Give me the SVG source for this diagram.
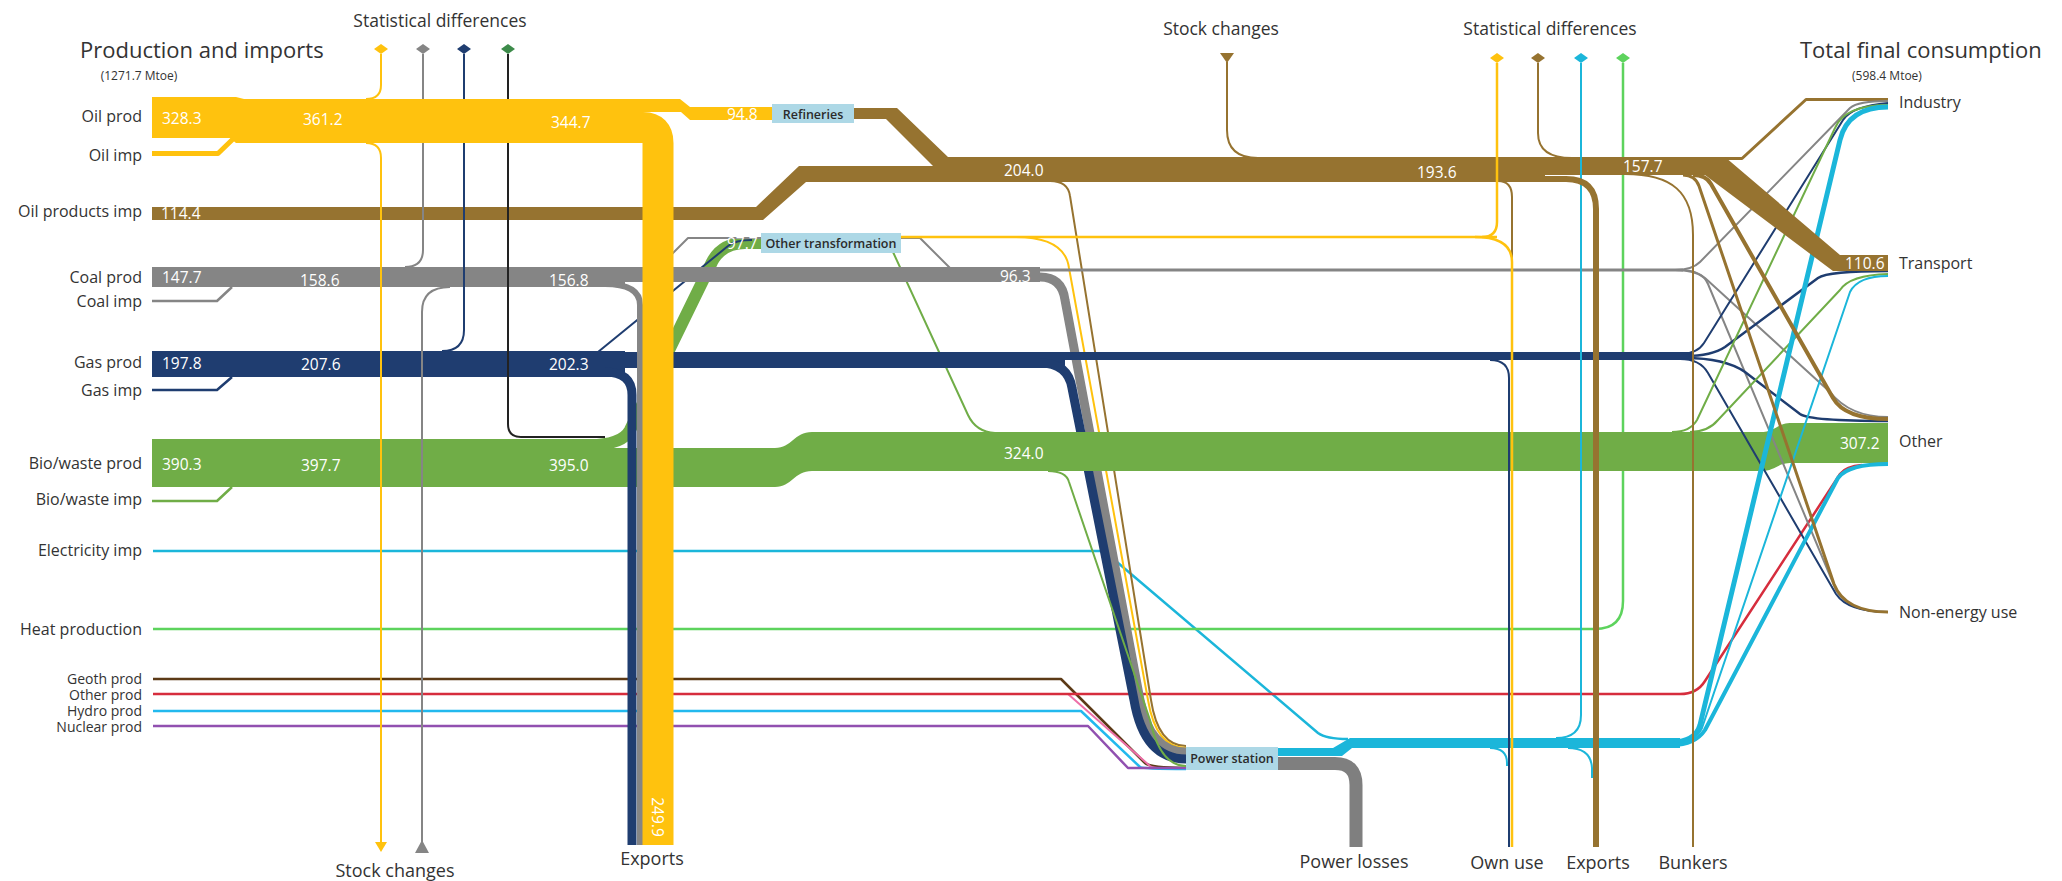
<svg xmlns="http://www.w3.org/2000/svg" width="2062" height="881" viewBox="0 0 2062 881">
<defs>
<style>
text{font-family:"Open Sans","Liberation Sans",Arial,sans-serif;fill:#333}
.lbl{font-size:16px;text-anchor:end;dominant-baseline:central}
.sm{font-size:14px}
.rl{font-size:16px;dominant-baseline:central}
.num{font-size:15.5px;fill:#fff;dominant-baseline:central}
.ttl{font-size:22px;dominant-baseline:central}
.sub{font-size:12px;text-anchor:middle;dominant-baseline:central}
.hdr{font-size:17.5px;text-anchor:middle;dominant-baseline:central}
.bot{font-size:18px;text-anchor:middle;dominant-baseline:central}
.bx{fill:#ADD8E6}
.bxt{font-size:12.5px;font-weight:600;fill:#2b2b2b;text-anchor:middle;dominant-baseline:central}
.f{fill:none;stroke-linecap:butt;stroke-linejoin:round}
.oil{stroke:#FFC20E}.oilf{fill:#FFC20E}
.pr{stroke:#967330}.prf{fill:#967330}
.co{stroke:#858585}.cof{fill:#858585}
.ga{stroke:#1F3D70}.gaf{fill:#1F3D70}
.bi{stroke:#70AD47}.bif{fill:#70AD47}
.el{stroke:#1BB6DA}.elf{fill:#1BB6DA}
.ht{stroke:#5DD35D}.htf{fill:#5DD35D}
.ge{stroke:#5C3A17}
.ot{stroke:#D62D3D}
.pk{stroke:#EE6FA8}
.hy{stroke:#22B9EE}
.nu{stroke:#9150B0}
.bk{stroke:#222}
.pl{stroke:#7F7F7F}
</style>
</defs>
<rect width="2062" height="881" fill="#fff"/>
<g id="connectors">
  <!-- thin horizontal source lines -->
  <path class="f el" stroke-width="2.5" d="M153,551 H1104 L1318,733 Q1326,739 1348,739"/>
  <path class="f ht" stroke-width="2.5" d="M153,629 H1595 Q1623,629 1623,601 V63"/>
  <path class="f ge" stroke-width="2.5" d="M153,679 H1061 L1145,763 Q1150,768 1186,768"/>
  <path class="f pk" stroke-width="2" d="M1068,694 L1150,766 Q1154,769 1186,769"/>
  <path class="f ot" stroke-width="2.5" d="M153,694 H1680 Q1697,694 1705,681 L1840,474 Q1846,466 1862,465"/>
  <path class="f hy" stroke-width="2.5" d="M153,711 H1081 L1140,767 Q1143,769 1186,769"/>
  <path class="f nu" stroke-width="2.5" d="M153,726 H1088 L1128,768 H1186"/>

  <!-- oil products -->
  <polygon class="prf" points="152,207 756,207 799,166 985,166 985,182 806,182 763,220 152,220"/>
  <polygon class="prf" points="854,108 897,108 948,157 985,157 985,168 935,168 886,119 854,119"/>
  <rect class="prf" x="980" y="157" width="565" height="25"/>
  <rect class="prf" x="1544" y="157" width="173" height="18"/>
  <path class="f pr" stroke-width="3" d="M1712,158.5 H1742 L1806,99.5 H1888"/>
  <path class="f pr" stroke-width="2" d="M1538,63 V133 Q1538,158 1572,158"/>
  <path class="f pr" stroke-width="2" d="M1227,62 V130 Q1227,158 1258,158"/>
  <path class="f pr" stroke-width="2" d="M1050,181 Q1068,181 1070,196 L1151,700 Q1158,746 1186,746"/>

  <!-- other transformation links -->
  <path class="f bi" stroke-width="12" d="M590,445 Q622,445 630,430 L712,262 Q722,243 745,243 H762"/>
  <path class="f ga" stroke-width="2" d="M598,352 L728,246 Q735,240 752,240"/>
  <path class="f co" stroke-width="2" d="M658,268 L688,238 H920 L950,268"/>
  <path class="f bi" stroke-width="2" d="M893,252 L968,415 Q976,432 995,433"/>
  <path class="f oil" stroke-width="2.5" d="M901,237 H1497"/>
  <path class="f oil" stroke-width="2" d="M1015,237 Q1065,237 1069,268 L1148,700 Q1156,748 1186,748"/>

  <!-- coal -->
  <rect class="cof" x="152" y="267" width="473" height="20"/>
  <rect class="cof" x="600" y="267" width="440" height="15"/>
  <path class="f co" stroke-width="2.5" d="M152,301 H217 L232,287"/>
  <path class="f co" stroke-width="3" d="M1030,270 H1683"/>
  <path class="f co" stroke-width="9" d="M1000,277 H1040 Q1062,277 1065,300 L1140,700 Q1150,752 1186,752"/>

  <!-- gas -->
  <rect class="gaf" x="152" y="351" width="473" height="26"/>
  <rect class="gaf" x="600" y="352" width="465" height="16"/>
  <path class="f ga" stroke-width="2.5" d="M152,390 H217 L232,377"/>
  <path class="f ga" stroke-width="8" d="M1060,356 H1692"/>
  <path class="f ga" stroke-width="9" d="M1040,363 Q1068,363 1072,388 L1134,700 Q1144,759 1186,759"/>

  <!-- bio -->
  <path class="bif" d="M152,439 H600 V448 H775 C792,448 794,432 812,432 H1760 C1776,432 1776,423 1792,423 H1888 V463 H1792 C1776,463 1776,471 1760,471 H812 C794,471 792,487 775,487 H152 Z"/>
  <path class="f bi" stroke-width="2.5" d="M152,501 H217 L232,487"/>
  <path class="f bi" stroke-width="2" d="M1048,471 Q1066,471 1069,482 L1150,720 Q1160,766 1186,766"/>

  <!-- power station outputs -->
  <polygon class="elf" points="1278,748 1333,748 1350,738 1680,738 1680,748 1352,748 1342,756 1278,756"/>
  <path class="f pl" stroke-width="13" d="M1278,763.5 H1335 Q1356,763.5 1356,785 V847"/>
  <path class="f el" stroke-width="2" d="M1490,748 Q1507,748 1507,763 V766"/>
  <path class="f el" stroke-width="2" d="M1568,748 Q1591,748 1592,768 V778"/>
  <path class="f el" stroke-width="2" d="M1581,63 V715 Q1581,738 1556,738"/>

  <!-- fan to final consumption -->
  <path class="f co" stroke-width="2" d="M1675,270 Q1692,270 1700,262 L1850,108 Q1858,101 1888,101"/>
  <path class="f co" stroke-width="2" d="M1675,270 Q1695,270 1705,278 L1830,392 Q1850,417 1888,417"/>
  <path class="f co" stroke-width="2" d="M1680,270 Q1702,270 1708,284 L1836,590 Q1848,612 1888,612"/>
  <path class="f ga" stroke-width="2" d="M1680,354 Q1697,354 1704,343 L1843,120 Q1852,106 1888,103"/>
  <path class="f ga" stroke-width="2.5" d="M1685,356 Q1712,356 1725,347 L1818,278 Q1828,271 1888,271"/>
  <path class="f ga" stroke-width="2.5" d="M1685,358 Q1725,358 1745,372 L1800,414 Q1810,421 1888,421"/>
  <path class="f ga" stroke-width="2" d="M1680,359 Q1700,359 1708,373 L1836,594 Q1848,612 1888,612"/>
  <path class="f bi" stroke-width="2" d="M1672,432 Q1690,432 1697,420 L1835,128 Q1845,105 1888,105"/>
  <path class="f bi" stroke-width="2" d="M1690,432 Q1708,432 1718,420 L1840,290 Q1850,275 1888,274"/>
  <path class="f el" stroke-width="5" d="M1672,742 Q1695,742 1700,725 L1840,140 Q1848,107 1888,107"/>
  <path class="f el" stroke-width="2" d="M1672,743 Q1695,743 1702,728 L1850,292 Q1858,276 1888,276"/>
  <path class="f el" stroke-width="4" d="M1672,745 Q1695,745 1705,730 L1838,478 Q1848,464 1888,464"/>
  <path class="f pr" stroke-width="4" d="M1693,175 Q1706,175 1711,184 L1833,398 Q1845,419 1888,419"/>
  <path class="f pr" stroke-width="3" d="M1683,175 Q1695,175 1699,186 L1834,584 Q1845,612 1888,612"/>
  <polygon class="prf" points="1705,157 1725,157 1840,255 1888,255 1888,271 1833,271 1705,175"/>

  <!-- left stat diff / stock change lines -->
  <path class="f oil" stroke-width="2" d="M381,54 V85 Q381,99 366,99"/>
  <path class="f oil" stroke-width="2" d="M366,143 Q381,143 381,158 V843"/>
  <polygon class="oilf" points="375,842 387,842 381,852"/>
  <path class="f co" stroke-width="2" d="M423,54 V250 Q423,267 405,267"/>
  <path class="f co" stroke-width="2" d="M450,287 Q422,287 422,312 V842"/>
  <polygon class="cof" points="415,853 429,853 422,840"/>
  <path class="f ga" stroke-width="2" d="M464,54 V330 Q464,351 442,351"/>
  <path class="f bk" stroke-width="2" d="M508,54 V424 Q508,437 521,437 H605"/>

  <!-- oil -->
  <polygon class="oilf" points="152,97 236,97 244,99 600,99 600,143 236,143 230,138 152,138"/>
  <path class="f oil" stroke-width="5" d="M152,153.5 H218 L233,139"/>
  <polygon class="oilf" points="590,99 680,99 690,107 772,107 772,120 690,120 681,112 590,112"/>
  <path class="f co" stroke-width="6" d="M605,284 Q640,284 640,305 V845"/>
  <path class="f ga" stroke-width="9" d="M605,372 Q632,372 632,395 V845"/>
  <path class="f oil" stroke-width="31" d="M590,127.5 H643 Q658,127.5 658,143 V845"/>

  <!-- right verticals -->
  <path class="f pr" stroke-width="6" d="M1540,179 H1566 Q1596,179 1596,209 V847"/>
  <path class="f pr" stroke-width="2" d="M1625,174 C1672,174 1693,192 1693,235 V847"/>
  <path class="f pr" stroke-width="2" d="M1498,181 Q1512,181 1512,197 V847"/>
  <path class="f ga" stroke-width="2" d="M1490,360 Q1509,360 1509,378 V847"/>
  <path class="f oil" stroke-width="2.5" d="M1497,63 V222 Q1497,237 1482,237"/>
  <path class="f oil" stroke-width="2.5" d="M1475,237 Q1512,237 1512,262 V847"/>
</g>

<g id="stat-diff-left">
  <polygon fill="#FFC20E" points="374,49 381,44 388,49 381,54"/>
  <polygon fill="#858585" points="416,49 423,44 430,49 423,54"/>
  <polygon fill="#1F3D70" points="457,49 464,44 471,49 464,54"/>
  <polygon fill="#3D8B4A" points="501,49 508,44 515,49 508,54"/>
  <text class="hdr" x="440" y="20">Statistical differences</text>
</g>
<g id="stat-diff-right">
  <polygon fill="#FFC20E" points="1490,58 1497,53 1504,58 1497,63"/>
  <polygon fill="#967330" points="1531,58 1538,53 1545,58 1538,63"/>
  <polygon fill="#1BB6DA" points="1574,58 1581,53 1588,58 1581,63"/>
  <polygon fill="#5DD35D" points="1616,58 1623,53 1630,58 1623,63"/>
  <text class="hdr" x="1550" y="28">Statistical differences</text>
</g>
<g id="stock-changes-top">
  <polygon fill="#967330" points="1220,53 1234,53 1227,63"/>
  <text class="hdr" x="1221" y="28">Stock changes</text>
</g>

<g id="sources">
  <text class="ttl" x="80" y="49">Production and imports</text>
  <text class="sub" x="139" y="75">(1271.7 Mtoe)</text>
  <g id="n-oil-prod"><text class="lbl" x="142" y="116">Oil prod</text><text class="num" x="162" y="118">328.3</text></g>
  <g id="n-oil-imp"><text class="lbl" x="142" y="155">Oil imp</text></g>
  <g id="n-oilprod-imp"><text class="lbl" x="142" y="211">Oil products imp</text><text class="num" x="161" y="213">114.4</text></g>
  <g id="n-coal-prod"><text class="lbl" x="142" y="277">Coal prod</text><text class="num" x="162" y="277">147.7</text></g>
  <g id="n-coal-imp"><text class="lbl" x="142" y="301">Coal imp</text></g>
  <g id="n-gas-prod"><text class="lbl" x="142" y="362">Gas prod</text><text class="num" x="162" y="363">197.8</text></g>
  <g id="n-gas-imp"><text class="lbl" x="142" y="390">Gas imp</text></g>
  <g id="n-bio-prod"><text class="lbl" x="142" y="463">Bio/waste prod</text><text class="num" x="162" y="464">390.3</text></g>
  <g id="n-bio-imp"><text class="lbl" x="142" y="499">Bio/waste imp</text></g>
  <g id="n-elec-imp"><text class="lbl" x="142" y="550">Electricity imp</text></g>
  <g id="n-heat"><text class="lbl" x="142" y="629">Heat production</text></g>
  <g id="n-geoth"><text class="lbl sm" x="142" y="678">Geoth prod</text></g>
  <g id="n-other-prod"><text class="lbl sm" x="142" y="694">Other prod</text></g>
  <g id="n-hydro"><text class="lbl sm" x="142" y="710">Hydro prod</text></g>
  <g id="n-nuclear"><text class="lbl sm" x="142" y="726">Nuclear prod</text></g>
</g>

<g id="flow-values">
  <text class="num" x="303" y="119">361.2</text>
  <text class="num" x="551" y="122">344.7</text>
  <text class="num" x="300" y="280">158.6</text>
  <text class="num" x="549" y="280">156.8</text>
  <text class="num" x="301" y="364">207.6</text>
  <text class="num" x="549" y="364">202.3</text>
  <text class="num" x="301" y="465">397.7</text>
  <text class="num" x="549" y="465">395.0</text>
  <text class="num" x="727" y="114">94.8</text>
  <text class="num" x="727" y="243">97.7</text>
  <text class="num" x="1004" y="170">204.0</text>
  <text class="num" x="1000" y="276">96.3</text>
  <text class="num" x="1004" y="453">324.0</text>
  <text class="num" x="1417" y="172">193.6</text>
  <text class="num" x="1623" y="166">157.7</text>
  <text class="num" transform="rotate(90 658 817)" x="658" y="817" text-anchor="middle">249.9</text>
</g>

<g id="n-refineries"><rect class="bx" x="772" y="104" width="82" height="19"/><text class="bxt" x="813" y="114">Refineries</text></g>
<g id="n-other-transformation"><rect class="bx" x="761" y="233" width="140" height="20"/><text class="bxt" x="831" y="243">Other transformation</text></g>
<g id="n-power-station"><rect class="bx" x="1186" y="747" width="92" height="23"/><text class="bxt" x="1232" y="758">Power station</text></g>

<g id="sinks-bottom">
  <g id="n-stock-changes"><text class="bot" x="395" y="870">Stock changes</text></g>
  <g id="n-exports-left"><text class="bot" x="652" y="858">Exports</text></g>
  <g id="n-power-losses"><text class="bot" x="1354" y="861">Power losses</text></g>
  <g id="n-own-use"><text class="bot" x="1507" y="862">Own use</text></g>
  <g id="n-exports-right"><text class="bot" x="1598" y="862">Exports</text></g>
  <g id="n-bunkers"><text class="bot" x="1693" y="862">Bunkers</text></g>
</g>

<g id="consumption">
  <text class="ttl" x="1800" y="49">Total final consumption</text>
  <text class="sub" x="1887" y="75">(598.4 Mtoe)</text>
  <g id="n-industry"><text class="rl" x="1899" y="102">Industry</text></g>
  <g id="n-transport"><text class="num" x="1845" y="263">110.6</text><text class="rl" x="1899" y="263">Transport</text></g>
  <g id="n-other"><text class="num" x="1840" y="443">307.2</text><text class="rl" x="1899" y="441">Other</text></g>
  <g id="n-non-energy"><text class="rl" x="1899" y="612">Non-energy use</text></g>
</g>
</svg>
